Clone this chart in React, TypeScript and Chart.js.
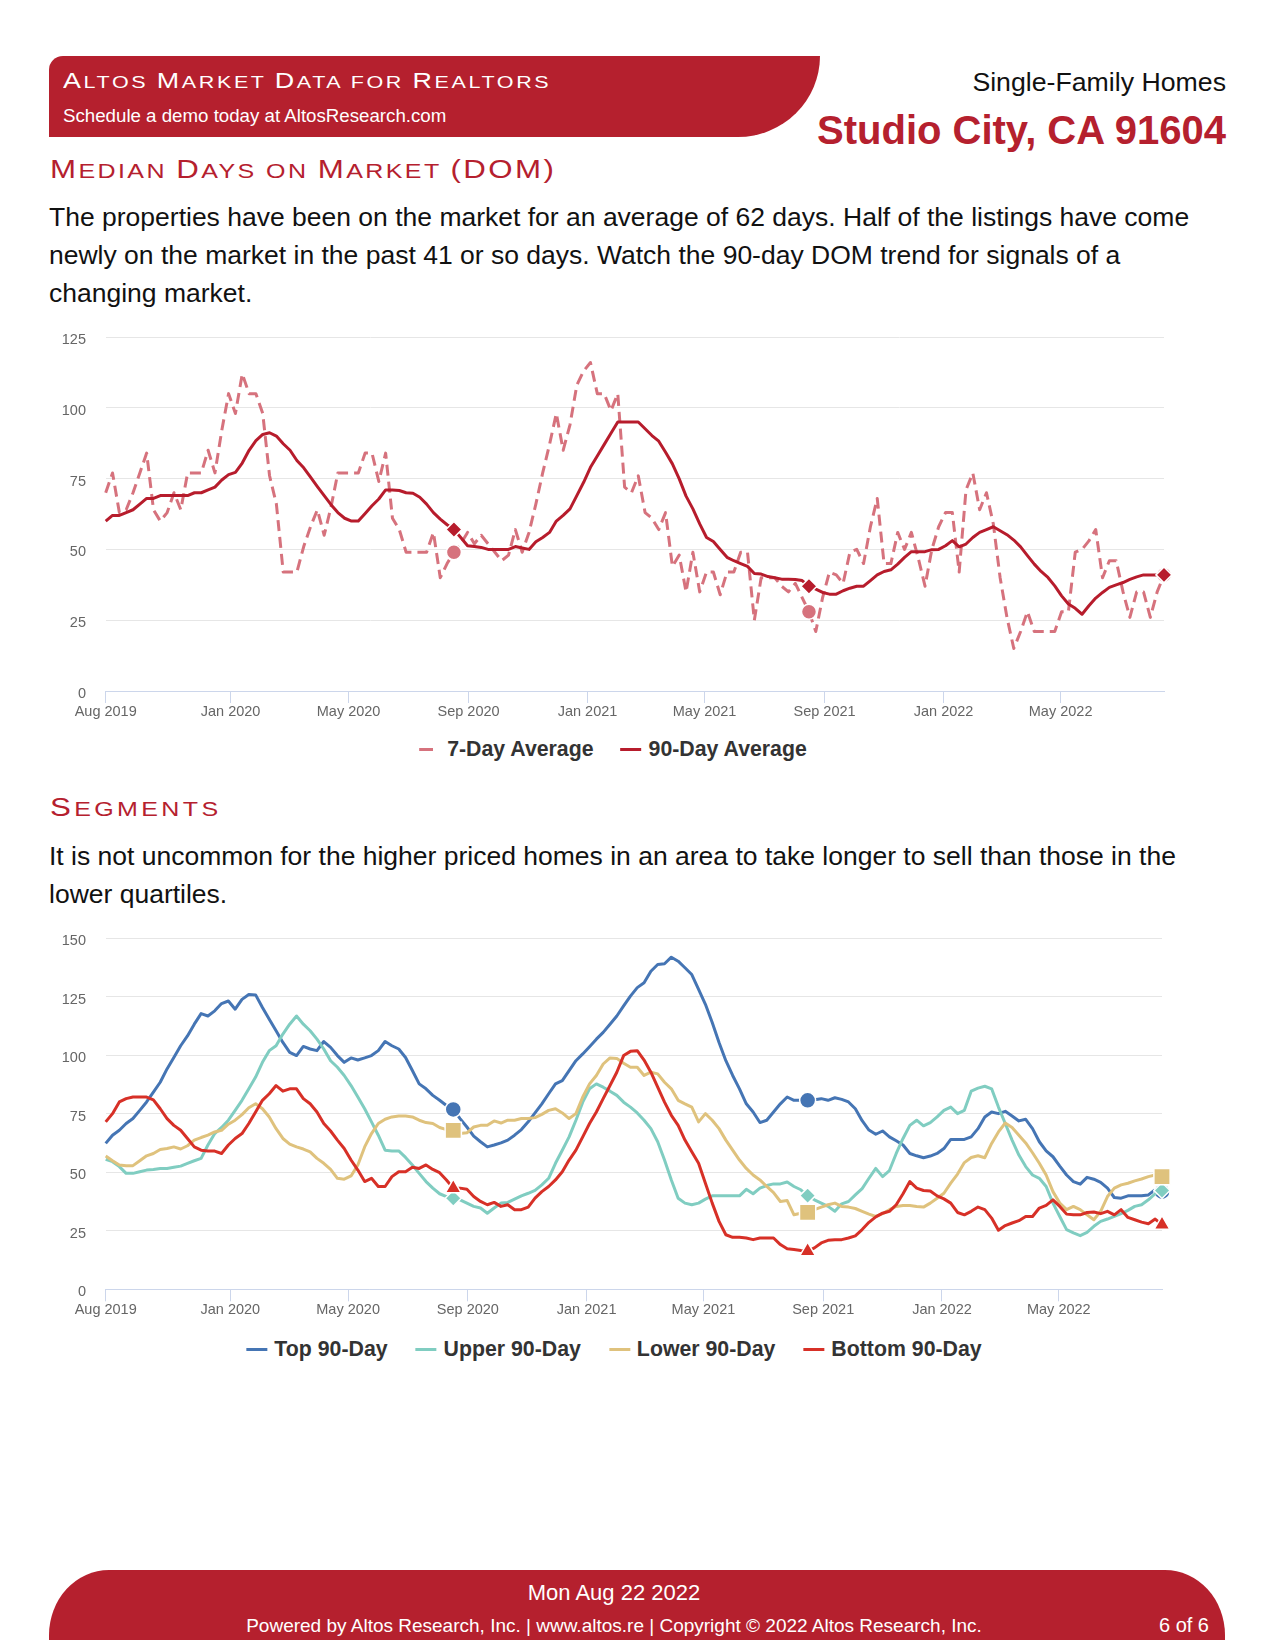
import React, { useEffect, useRef } from 'react';
import { Chart, registerables } from 'chart.js';

Chart.register(...registerables);

// ---------- categories / ticks ----------
const START_DATE = '2019-08-26';
const N_WEEKS = 156;
const TICK_LABELS = ['Aug 2019', 'Jan 2020', 'May 2020', 'Sep 2020', 'Jan 2021', 'May 2021', 'Sep 2021', 'Jan 2022', 'May 2022'];
const TICK_DATES = ['2019-08-26', '2020-01-01', '2020-05-01', '2020-09-01', '2021-01-01', '2021-05-01', '2021-09-01', '2022-01-01', '2022-05-01'];
const MARKER_INDEXES = [51, 103, 155];
const DOM_Y_TICKS_MAX = 125;
const SEG_Y_TICKS_MAX = 150;

// ---------- series values (weekly) ----------
const SEVEN_DAY = [
  70, 77, 63, 64, 70, 77, 84, 64, 60, 63,
  70, 64, 77, 77, 77, 85, 77, 92, 105, 98,
  112, 105, 105, 98, 76, 66, 42, 42, 42, 51,
  58, 64, 55, 65, 77, 77, 77, 77, 84, 84,
  74, 84, 61, 57, 49, 49, 49, 49, 56, 40,
  45, 49, 52, 56, 52, 55, 52, 49, 46, 48,
  57, 49, 56, 66, 77, 87, 98, 85, 94, 108,
  113, 116, 105, 105, 99, 105, 72, 70, 76, 63,
  61, 57, 63, 44, 48, 35, 49, 35, 42, 42,
  34, 42, 42, 49, 49, 25, 40, 40, 40, 37,
  35, 38, 33, 28, 21, 33, 42, 41, 38, 49,
  50, 45, 58, 68, 45, 45, 56, 50, 56, 47,
  37, 50, 58, 63, 63, 42, 71, 77, 64, 70,
  59, 40, 26, 15, 21, 28, 21, 21, 21, 21,
  28, 28, 49, 50, 53, 57, 40, 46, 46, 35,
  26, 35, 35, 26, 35, 41,
];

const NINETY_DAY = [
  60, 62, 62, 63, 64, 66, 68, 68, 69, 69,
  69, 69, 69, 70, 70, 71, 72, 74.5, 76.4, 77.2,
  80.5, 85, 88.4, 90.6, 91.2, 90, 87.3, 85, 81.4, 78.8,
  75.5, 72.2, 69, 65.8, 63, 61, 60, 60, 62.7, 65.4,
  67.8, 71, 71, 70.8, 70, 69.8, 68.4, 66, 63, 60.7,
  58.7, 57, 54.2, 51.3, 51, 50.7, 50, 50, 50, 50,
  51, 50.5, 50, 52.7, 54.2, 56, 60, 62, 64.3, 69,
  73.7, 79, 83, 87, 91, 95, 95, 95, 95, 92.6,
  90.2, 88.2, 84.3, 80.2, 74.9, 68.8, 64.3, 59, 54.2, 52.8,
  50, 47.2, 46, 45, 44, 41.5, 41.3, 40.4, 40, 39.5,
  39.5, 39.4, 39, 37, 36, 34.8, 34.2, 34.2, 35.4, 36.3,
  37, 37, 39, 41, 42.2, 42.8, 44.8, 47.2, 49.2, 49.2,
  49.2, 49.9, 50, 51.3, 53.1, 50.9, 51.9, 54.2, 56, 57,
  58, 56.6, 55.2, 53.3, 50.9, 47.8, 44.8, 42.2, 40.1, 37.1,
  33.6, 30.7, 29.2, 27.1, 30.1, 32.8, 34.8, 36.6, 37.5, 38.3,
  39.4, 40.3, 41, 41, 41, 41,
];

const TOP_90 = [
  62.3, 65.8, 67.9, 70.8, 72.9, 76.4, 80, 84.2, 88.4, 94.1,
  99, 104, 108.2, 113.2, 117.7, 116.7, 118.9, 122, 123.1, 119.6,
  123.8, 125.9, 125.7, 120.3, 115.3, 110.4, 105.4, 101.2, 99.8, 103.7,
  102.6, 101.9, 105.8, 103.3, 99.8, 96.9, 98.8, 97.9, 98.8, 99.8,
  101.9, 105.8, 104, 102.6, 99, 93.4, 87.7, 85.6, 82.8, 80.7,
  78.5, 76.8, 72.9, 69.3, 65.4, 63, 60.8, 61.6, 62.5, 63.7,
  65.8, 68.2, 71.5, 75.3, 79.2, 83.5, 87.7, 89.1, 93.4, 97.6,
  100.5, 103.6, 106.8, 109.7, 113.2, 116.7, 121, 125.2, 128.8, 130.9,
  135.8, 138.7, 139, 141.8, 140.1, 137.3, 134.4, 128.1, 121.7, 113.9,
  105.4, 97.6, 91.3, 85.6, 79.2, 75.7, 71.2, 72.2, 75.7, 79.2,
  82.1, 80.7, 80.7, 80.7, 80.9, 81.4, 80.7, 81.8, 81.1, 80,
  77.1, 72, 68, 66.2, 67.6, 65.1, 63.4, 61.6, 58, 57,
  56.2, 56.9, 58, 60.1, 64, 64, 64, 65.1, 68.6, 73.6,
  75.7, 75, 76, 74, 71.9, 72.6, 68.6, 63, 59.1, 56.6,
  52.6, 48.8, 46, 44.9, 47.8, 47, 45.7, 43.2, 39.2, 38.9,
  39.9, 39.9, 39.9, 40.3, 42.5, 41.7,
];

const UPPER_90 = [
  55.5, 54.5, 52.4, 49.5, 49.5, 50.2, 50.9, 51.2, 51.6, 51.6,
  52.1, 52.6, 53.8, 54.9, 55.9, 61.6, 66.5, 69.1, 72.2, 76.4,
  80.7, 85.6, 90.6, 96.9, 101.9, 104, 109, 113.2, 116.7, 113.2,
  110.4, 106.8, 102.6, 97.6, 94.8, 91.3, 87, 82.1, 77.1, 71.5,
  65.8, 59.4, 59.1, 59.1, 56.3, 53.1, 49.5, 46, 43.2, 40.8,
  39.6, 38.9, 38.2, 36.8, 35.4, 34.7, 32.5, 34.7, 36.8, 37.1,
  38.5, 39.9, 41, 42.2, 44.6, 47.4, 53.8, 59.4, 65.1, 72.2,
  79.9, 85.6, 87.7, 86.3, 84.6, 82.8, 79.9, 77.8, 75.3, 72.2,
  68.6, 63, 55.2, 46.7, 38.9, 36.8, 36.1, 36.8, 38.5, 39.9,
  39.9, 39.9, 39.9, 39.9, 42.7, 40.8, 43.2, 44.3, 45, 45,
  45.8, 43.9, 42.5, 40, 38.2, 36.8, 35.4, 33.3, 36.5, 37.5,
  40.3, 43, 47.4, 51.6, 48.1, 50.7, 58, 64.4, 70, 72.2,
  69.8, 71.2, 73.6, 76.4, 77.8, 75, 76.4, 84.6, 85.9, 86.7,
  85.6, 77.8, 70.8, 63.7, 57.3, 52.4, 48.8, 47.4, 43.9, 36.8,
  31.1, 25.5, 24.1, 22.9, 24.3, 26.9, 29, 30, 31.1, 32.3,
  33.7, 35.4, 36.1, 38.2, 40.8, 42.2,
];

const LOWER_90 = [
  56.9, 54.9, 53.1, 52.8, 52.8, 54.9, 57, 58, 59.7, 60.1,
  60.8, 59.9, 61.3, 63.7, 64.8, 65.8, 67.2, 67.9, 70.5, 72.2,
  74.6, 77.5, 79.2, 77.1, 73.6, 68.6, 64.4, 62, 60.8, 59.9,
  58.7, 55.9, 53.8, 51.2, 47.4, 47, 48.4, 53.1, 60.8, 66.5,
  70.8, 72.6, 73.6, 74, 74, 73.6, 72.2, 71.2, 70.8, 69.1,
  68.2, 67.9, 66.5, 66.8, 69.3, 70, 70, 71.9, 71, 72.2,
  72.2, 72.9, 72.9, 73.3, 74.7, 76.4, 77.1, 75.3, 72.9, 75,
  82.1, 87.7, 91.3, 96.2, 98.8, 98.6, 96.5, 94.8, 94.8, 91.3,
  92.7, 92, 88.4, 85.6, 80.7, 79.2, 77.8, 71.5, 75, 72.2,
  68.6, 63.7, 59.4, 55.2, 51.6, 48.8, 46.7, 43.9, 41.3, 37.5,
  37.9, 31.8, 32.5, 32.8, 34, 35.1, 36.1, 36.8, 35.4, 35.1,
  34.5, 33.3, 32.1, 31.1, 32.3, 34, 35.4, 35.8, 35.8, 35.4,
  35.1, 36.8, 38.9, 41, 45.3, 49.2, 54.1, 56.3, 57, 56.2,
  62.3, 67.2, 71, 69.1, 65.8, 62.5, 58.3, 53.8, 48.8, 41.7,
  36.8, 34, 35.4, 34, 31.8, 29.7, 33.3, 39.6, 43.2, 44.6,
  45.3, 46.3, 47.1, 48.1, 48.8, 48.1,
];

const BOTTOM_90 = [
  71.5, 75, 80, 81.4, 82.1, 82.1, 82.1, 80.9, 77.1, 72.9,
  70, 67.9, 64.4, 60.8, 59.4, 59.1, 59, 58, 61.6, 64.4,
  66.5, 70.8, 75.7, 80.7, 83.5, 87, 84.6, 85.6, 85.6, 81.4,
  79.2, 75.7, 70.8, 67.6, 63.7, 60.1, 55.2, 50.9, 46, 47.4,
  43.9, 43.9, 48.1, 50.2, 50.2, 52.1, 51.6, 53.1, 51.2, 49.8,
  46.7, 43.2, 43.2, 42.7, 39.6, 37.5, 36.1, 37.1, 35.4, 36.1,
  34, 34, 35.1, 38.9, 41.7, 43.9, 46.7, 50.2, 55.2, 59.4,
  65.1, 70.8, 75.7, 81.4, 87, 92.7, 99.8, 101.6, 101.9, 97.9,
  92.7, 86.3, 79.9, 74.3, 70, 63.7, 58.7, 53.8, 45.3, 36.8,
  29, 23.3, 22.2, 22.2, 21.9, 21.2, 21.9, 21.9, 21.9, 19.1,
  17.3, 17, 16.6, 16.3, 17.7, 19.8, 20.9, 21.2, 21.2, 21.9,
  22.8, 25.5, 28.6, 30.9, 32.5, 33.3, 36.1, 40.8, 46, 43.2,
  42.2, 42, 39.9, 38.6, 36.8, 32.8, 31.8, 33.3, 35.1, 34,
  30.4, 25.2, 27.2, 28.3, 29.3, 31.1, 31.1, 34.7, 35.8, 38.2,
  35.4, 32.1, 31.8, 31.8, 32.8, 33, 32.3, 33.3, 31.8, 34,
  30.7, 29.7, 28.7, 28, 30, 27.6,
];

// ---------- styling ----------
const RED = '#b5202e';
const C_7DAY = '#d6727d';
const C_90DAY = '#b71c2c';
const C_TOP = '#4575b4';
const C_UPPER = '#80cdc1';
const C_LOWER = '#dfc27d';
const C_BOTTOM = '#d73027';
const FONT = '"Liberation Sans", Arial, Helvetica, sans-serif';

const DAY_MS = 86400000;
const dayOf = (s: string) => Math.round((Date.parse(s) - Date.parse(START_DATE)) / DAY_MS);
const TICK_DAYS = TICK_DATES.map(dayOf);
const X_MAX = (N_WEEKS - 1) * 7;
const toPoints = (vals: number[]) => vals.map((y, i) => ({ x: i * 7, y }));
const markRadius = (r: number) => (ctx: any) => (MARKER_INDEXES.includes(ctx.dataIndex) ? r : 0);

function makeOptions(yMax: number, padBottom: number): any {
  return {
    animation: false,
    responsive: false,
    maintainAspectRatio: false,
    events: [],
    layout: { padding: { left: 12.8, right: 11, top: 10, bottom: padBottom } },
    plugins: { legend: { display: false }, tooltip: { enabled: false } },
    elements: { line: { tension: 0, borderJoinStyle: 'round' } },
    scales: {
      x: {
        type: 'linear',
        min: 0,
        max: X_MAX,
        afterBuildTicks: (scale: any) => {
          scale.ticks = TICK_DAYS.map((v) => ({ value: v }));
        },
        afterFit: (scale: any) => {
          scale.paddingLeft = 0;
          scale.paddingRight = 0;
        },
        ticks: {
          autoSkip: false,
          maxRotation: 0,
          minRotation: 0,
          padding: 0,
          color: '#666666',
          font: { family: FONT, size: 14.5 },
          callback: (_v: any, idx: number) => TICK_LABELS[idx],
        },
        grid: { drawOnChartArea: false, drawTicks: true, tickLength: 12, color: '#ccd6eb', lineWidth: 1 },
        border: { display: true, color: '#ccd6eb', width: 1 },
      },
      y: {
        min: 0,
        max: yMax,
        afterFit: (scale: any) => {
          scale.width = 43.9;
          scale.paddingTop = 0;
          scale.paddingBottom = 0;
        },
        ticks: { stepSize: 25, padding: 19.7, labelOffset: 3, color: '#666666', font: { family: FONT, size: 14.5 } },
        grid: { color: '#e6e6e6', drawTicks: false, lineWidth: 1 },
        border: { display: false },
      },
    },
  };
}

function LineChart({ datasets, yMax, left, top, width, height, padBottom }: any) {
  const ref = useRef<HTMLCanvasElement>(null);
  useEffect(() => {
    if (!ref.current) return;
    const chart = new Chart(ref.current, {
      type: 'line',
      data: { datasets },
      options: makeOptions(yMax, padBottom),
    } as any);
    return () => chart.destroy();
  }, []);
  return (
    <div style={{ position: 'absolute', left, top, width, height }}>
      <canvas ref={ref} width={width} height={height} style={{ width, height, display: 'block' }} />
    </div>
  );
}

function Legend({ items, top, centerX, gap }: any) {
  return (
    <div
      style={{
        position: 'absolute',
        top,
        left: centerX,
        transform: 'translateX(-50%)',
        display: 'flex',
        alignItems: 'center',
        gap,
        whiteSpace: 'nowrap',
        fontFamily: FONT,
        fontWeight: 'bold',
        fontSize: 21.3,
        lineHeight: '25px',
        color: '#333333',
      }}
    >
      {items.map((it: any) => (
        <div key={it.label} style={{ display: 'flex', alignItems: 'center' }}>
          <div
            style={{
              width: 21,
              height: 3,
              marginRight: 7,
              background: it.dashed ? `linear-gradient(to right, ${it.color} 0 14px, transparent 14px)` : it.color,
            }}
          />
          <span>{it.label}</span>
        </div>
      ))}
    </div>
  );
}

// small caps: lowercase letters drawn as 80% capitals (text content unchanged)
function SmallCaps({ text }: { text: string }) {
  const parts: React.ReactNode[] = [];
  let buf = '';
  let lower = false;
  const flush = (k: number) => {
    if (!buf) return;
    parts.push(
      lower ? (
        <span key={k} style={{ fontSize: '0.8em', textTransform: 'uppercase' }}>
          {buf}
        </span>
      ) : (
        <span key={k}>{buf}</span>
      )
    );
    buf = '';
  };
  for (let i = 0; i < text.length; i++) {
    const ch = text[i];
    const isLower = ch !== ch.toUpperCase();
    if (ch !== ' ' && isLower !== lower) {
      flush(i);
      lower = isLower;
    }
    buf += ch;
  }
  flush(text.length);
  return <>{parts}</>;
}

const abs = (o: any) => ({ position: 'absolute' as const, whiteSpace: 'nowrap' as const, ...o });

export default function App() {
  const domDatasets = [
    {
      label: '7-Day Average',
      data: toPoints(SEVEN_DAY),
      borderColor: C_7DAY,
      backgroundColor: C_7DAY,
      borderWidth: 3,
      borderDash: [11, 6],
      pointStyle: 'circle',
      pointRadius: markRadius(7.5),
      pointHoverRadius: 0,
      pointBackgroundColor: C_7DAY,
      pointBorderColor: '#ffffff',
      pointBorderWidth: 1.5,
      order: 2,
      clip: false,
    },
    {
      label: '90-Day Average',
      data: toPoints(NINETY_DAY),
      borderColor: C_90DAY,
      backgroundColor: C_90DAY,
      borderWidth: 3,
      pointStyle: 'rectRot',
      pointRadius: markRadius(8),
      pointHoverRadius: 0,
      pointBackgroundColor: C_90DAY,
      pointBorderColor: '#ffffff',
      pointBorderWidth: 1.5,
      order: 1,
      clip: false,
    },
  ];

  const seg = (label: string, vals: number[], color: string, style: string, r: number, order: number) => ({
    label,
    data: toPoints(vals),
    borderColor: color,
    backgroundColor: color,
    borderWidth: 3,
    pointStyle: style,
    pointRadius: markRadius(r),
    pointHoverRadius: 0,
    pointBackgroundColor: color,
    pointBorderColor: '#ffffff',
    pointBorderWidth: 1.5,
    order,
    clip: false,
  });

  const segDatasets = [
    seg('Top 90-Day', TOP_90, C_TOP, 'circle', 8, 4),
    seg('Upper 90-Day', UPPER_90, C_UPPER, 'rectRot', 8, 3),
    seg('Lower 90-Day', LOWER_90, C_LOWER, 'rect', 11.5, 2),
    seg('Bottom 90-Day', BOTTOM_90, C_BOTTOM, 'triangle', 9, 1),
  ];

  const capsTitle = (o: any) => ({
    transform: 'scaleX(1.25)',
    transformOrigin: 'left center',
    ...o,
  });

  return (
    <div style={{ position: 'relative', width: 1275, height: 1650, background: '#ffffff', fontFamily: FONT, overflow: 'hidden' }}>
      <style>{'body{margin:0;background:#fff;}'}</style>

      {/* header band */}
      <div
        style={{
          position: 'absolute',
          left: 49,
          top: 56,
          width: 771,
          height: 81,
          background: RED,
          borderRadius: '14px 0 82px 0 / 14px 0 81px 0',
        }}
      />
      <div style={abs(capsTitle({ left: 63, top: 67.5, fontSize: 21.5, lineHeight: '26px', color: '#ffffff', letterSpacing: 2.1 }))}>
        <SmallCaps text="Altos Market Data for Realtors" />
      </div>
      <div style={abs({ left: 63, top: 103.5, fontSize: 18.7, lineHeight: '23px', color: '#ffffff' })}>
        Schedule a demo today at AltosResearch.com
      </div>

      <div style={abs({ right: 49, top: 65.5, fontSize: 26.7, lineHeight: '32px', color: '#111111' })}>Single-Family Homes</div>
      <div style={abs({ right: 49, top: 106, fontSize: 40, lineHeight: '48px', color: RED, fontWeight: 'bold' })}>
        Studio City, CA 91604
      </div>

      {/* section 1 */}
      <div style={abs(capsTitle({ left: 50, top: 154, fontSize: 25, lineHeight: '30px', color: RED, letterSpacing: 1.93 }))}>
        <SmallCaps text="Median Days on Market (DOM)" />
      </div>
      <div style={{ position: 'absolute', left: 49, top: 199, width: 1176, fontSize: 26.5, lineHeight: '37.9px', color: '#111111' }}>
        The properties have been on the market for an average of 62 days. Half of the listings have come newly on the market in the
        past 41 or so days. Watch the 90-day DOM trend for signals of a changing market.
      </div>

      <LineChart datasets={domDatasets} yMax={DOM_Y_TICKS_MAX} left={49} top={327} width={1126} height={400} padBottom={6.6} />
      <Legend
        top={737}
        centerX={613}
        gap={27}
        items={[
          { label: '7-Day Average', color: C_7DAY, dashed: true },
          { label: '90-Day Average', color: C_90DAY },
        ]}
      />

      {/* section 2 */}
      <div style={abs(capsTitle({ left: 50, top: 792, fontSize: 25, lineHeight: '30px', color: RED, letterSpacing: 2.7 }))}>
        <SmallCaps text="Segments" />
      </div>
      <div style={{ position: 'absolute', left: 49, top: 838, width: 1176, fontSize: 26.5, lineHeight: '37.9px', color: '#111111' }}>
        It is not uncommon for the higher priced homes in an area to take longer to sell than those in the lower quartiles.
      </div>

      <LineChart datasets={segDatasets} yMax={SEG_Y_TICKS_MAX} left={49} top={925} width={1126} height={401} padBottom={7.3} />
      <Legend
        top={1337}
        centerX={614}
        gap={28}
        items={[
          { label: 'Top 90-Day', color: C_TOP },
          { label: 'Upper 90-Day', color: C_UPPER },
          { label: 'Lower 90-Day', color: C_LOWER },
          { label: 'Bottom 90-Day', color: C_BOTTOM },
        ]}
      />

      {/* footer */}
      <div
        style={{
          position: 'absolute',
          left: 49,
          top: 1570,
          width: 1176,
          height: 70,
          background: RED,
          borderRadius: '60px 60px 0 0 / 65px 65px 0 0',
        }}
      />
      <div style={{ position: 'absolute', left: 49, width: 1130, top: 1580, textAlign: 'center', fontSize: 22, lineHeight: '26px', color: '#ffffff' }}>
        Mon Aug 22 2022
      </div>
      <div style={{ position: 'absolute', left: 49, width: 1130, top: 1614, textAlign: 'center', fontSize: 19, lineHeight: '23px', color: '#ffffff', whiteSpace: 'nowrap' }}>
        Powered by Altos Research, Inc. | www.altos.re | Copyright © 2022 Altos Research, Inc.
      </div>
      <div style={abs({ right: 66, top: 1613, fontSize: 20, lineHeight: '24px', color: '#ffffff' })}>6 of 6</div>
    </div>
  );
}
